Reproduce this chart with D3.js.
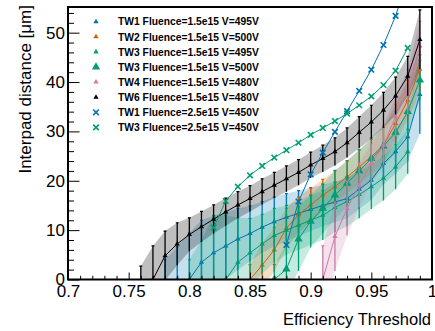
<!DOCTYPE html>
<html>
<head>
<meta charset="utf-8">
<script src="https://cdn.jsdelivr.net/npm/d3@7"></script>
<style>
  body { margin: 0; background: #fff; }
  svg { display: block; font-family: "Liberation Sans", Arial, sans-serif; }
</style>
</head>
<body>
<div id="chart"></div>
<script>
// efficiency threshold -> interpad distance, one set of arrays per curve
const thrTW1 = [0.78, 0.79, 0.80, 0.81, 0.82, 0.83, 0.84, 0.85, 0.86, 0.87, 0.88, 0.89, 0.90, 0.91, 0.92, 0.93, 0.94, 0.95, 0.96, 0.97, 0.98, 0.99];
const distTW1 = [0, 0, 0, 3.5, 5.4, 6.8, 8.2, 9.3, 10.6, 11.7, 12.6, 13.4, 14.2, 15.0, 15.7, 16.4, 18.3, 20.1, 23.5, 25.9, 28.9, 37.5];
const errTW1 = [4, 6.6, 9.4, 8.5, 7.5, 6.8, 6.2, 5.6, 5.2, 5, 4.8, 4.6, 4.4, 4.2, 4.1, 4, 4, 4, 4.2, 4.5, 5, 8];

const thrTW2 = [0.85, 0.86, 0.87, 0.88, 0.89, 0.90, 0.91, 0.92, 0.93, 0.94, 0.95, 0.96, 0.97, 0.98, 0.99];
const distTW2 = [0, 2.9, 6.0, 10.4, 13.1, 15.1, 17.1, 18.8, 20.8, 22.8, 24.9, 27.2, 31.6, 36.3, 42.6];
const errTW2 = [3, 4.5, 4.5, 4, 3.6, 3.4, 3.2, 3.2, 3.3, 3.4, 3.5, 3.6, 3.8, 4, 4.5];

const thrTW3a = [0.80, 0.81, 0.82, 0.83, 0.84, 0.85, 0.86, 0.87, 0.88, 0.89, 0.90, 0.91, 0.92, 0.93, 0.94, 0.95, 0.96, 0.97, 0.98];
const distTW3a = [0, 0, 0, 0, 3.5, 5.4, 7.2, 8.9, 10.0, 11.0, 12.0, 13.0, 14.6, 15.8, 17.2, 18.8, 20.5, 22.8, 25.9];
const errTW3a = [4, 8, 13, 13, 9, 7, 6, 5.5, 5, 5, 5, 5, 5, 5, 4.8, 4.5, 4.5, 4.5, 4.5];

const thrTW3b = [0.87, 0.88, 0.89, 0.90, 0.91, 0.92, 0.93, 0.94, 0.95, 0.96, 0.97, 0.98, 0.99];
const distTW3b = [0, 2.1, 8.2, 11.8, 14.4, 17.1, 19.5, 22.0, 24.5, 27.0, 29.8, 34.0, 40.4];
const errTW3b = [3, 5, 6.5, 5.3, 5, 5, 4.5, 4.3, 4.2, 4.2, 4.2, 4, 4];

const thrTW4 = [0.91, 0.92, 0.93, 0.94, 0.95, 0.96, 0.97, 0.98, 0.99];
const distTW4 = [0, 8.7, 14.4, 19.1, 23.5, 27.2, 33.0, 38.0, 47.3];
const errTW4 = [6.8, 7, 5.5, 4.5, 4, 4, 4, 4.5, 5];

const thrTW6 = [0.76, 0.77, 0.78, 0.79, 0.80, 0.81, 0.82, 0.83, 0.84, 0.85, 0.86, 0.87, 0.88, 0.89, 0.90, 0.91, 0.92, 0.93, 0.94, 0.95, 0.96, 0.97, 0.98, 0.99];
const distTW6 = [-3, 0, 4.8, 7.2, 9.1, 10.7, 12.2, 13.7, 15.1, 16.4, 17.8, 19.1, 20.4, 21.7, 23.2, 24.5, 25.9, 27.7, 29.8, 31.9, 34.3, 37.2, 41.2, 48.6];
const errTW6 = [5.7, 6.8, 5, 4.3, 3.4, 3.1, 2.9, 2.8, 2.7, 2.6, 2.6, 2.6, 2.6, 2.6, 2.6, 2.7, 2.8, 3, 3.2, 3.4, 3.6, 3.8, 4, 6];

const thrTW1hi = [0.88, 0.89, 0.90, 0.91, 0.92, 0.93, 0.94, 0.95, 0.96, 0.97, 0.98];
const distTW1hi = [7.0, 15.8, 21.3, 25.7, 29.9, 34.1, 38.2, 42.5, 47.5, 53.4, 61];

const thrTW3hi = [0.82, 0.83, 0.84, 0.85, 0.86, 0.87, 0.88, 0.89, 0.90, 0.91, 0.92, 0.93, 0.94, 0.95, 0.96, 0.97, 0.98];
const distTW3hi = [10.5, 15.9, 18.8, 21.1, 23.0, 24.7, 26.2, 27.7, 29.3, 30.7, 32.1, 33.6, 35.3, 37.1, 39.4, 42.3, 46.9];

const legendLabels = [
    'TW1 Fluence=1.5e15 V=495V',
    'TW2 Fluence=1.5e15 V=500V',
    'TW3 Fluence=1.5e15 V=495V',
    'TW3 Fluence=1.5e15 V=500V',
    'TW4 Fluence=1.5e15 V=480V',
    'TW6 Fluence=1.5e15 V=480V',
    'TW1 Fluence=2.5e15 V=450V',
    'TW3 Fluence=2.5e15 V=450V'
];

const xTicks = [0.7, 0.75, 0.8, 0.85, 0.9, 0.95, 1];
const yTicks = [0, 10, 20, 30, 40, 50];

const blue = '#0072B2', orange = '#D55E00', green = '#009E73', pink = '#CC79A7', black = '#000';

function zipPoints(t, v, e) {
    return t.map((d, i) => ({ t: d, v: v[i], e: e ? e[i] : 0 }));
}

const series = [
    { label: legendLabels[0], color: blue, marker: 'tri', size: 12, pts: zipPoints(thrTW1, distTW1, errTW1), band: true },
    { label: legendLabels[1], color: orange, marker: 'tri', size: 12, pts: zipPoints(thrTW2, distTW2, errTW2), band: true },
    { label: legendLabels[2], color: green, marker: 'tri', size: 12, pts: zipPoints(thrTW3a, distTW3a, errTW3a), band: true },
    { label: legendLabels[3], color: green, marker: 'tri', size: 30, pts: zipPoints(thrTW3b, distTW3b, errTW3b), band: true },
    { label: legendLabels[4], color: pink, marker: 'tri', size: 12, pts: zipPoints(thrTW4, distTW4, errTW4), band: true },
    { label: legendLabels[5], color: black, marker: 'tri', size: 12, pts: zipPoints(thrTW6, distTW6, errTW6), band: true },
    { label: legendLabels[6], color: blue, marker: 'x', size: 22, pts: zipPoints(thrTW1hi, distTW1hi), band: false },
    { label: legendLabels[7], color: green, marker: 'x', size: 22, pts: zipPoints(thrTW3hi, distTW3hi), band: false }
];

const width = 435, height = 331;
const frame = { left: 68, right: 432, top: 7, bottom: 279.5 };

const svg = d3.select('#chart').append('svg')
    .attr('width', width)
    .attr('height', height);

const x = d3.scaleLinear().domain([0.7, 1]).range([frame.left, frame.right]);
const y = d3.scaleLinear().domain([0, 55.2]).range([frame.bottom, frame.top]);

svg.append('defs').append('clipPath')
    .attr('id', 'plot-clip')
    .append('rect')
    .attr('x', frame.left)
    .attr('y', frame.top)
    .attr('width', frame.right - frame.left)
    .attr('height', frame.bottom - frame.top);

const plot = svg.append('g').attr('clip-path', 'url(#plot-clip)');

// bands first, then bars, lines and markers on top
const area = d3.area()
    .x(d => x(d.t))
    .y0(d => y(d.v - d.e))
    .y1(d => y(d.v + d.e));

series.filter(s => s.band).forEach(s => {
    plot.append('path')
        .datum(s.pts)
        .attr('d', area)
        .attr('fill', s.color)
        .attr('fill-opacity', s.color === black ? 0.25 : 0.22);
});

const line = d3.line().x(d => x(d.t)).y(d => y(d.v));

function markerPath(s) {
    const type = s.marker === 'x' ? d3.symbolX : d3.symbolTriangle;
    return d3.symbol().type(type).size(s.size)();
}

series.forEach(s => {
    const g = plot.append('g');
    if (s.band) {
        const bars = g.selectAll('.bar').data(s.pts).enter().append('g').attr('class', 'bar');
        bars.append('line')
            .attr('x1', d => x(d.t)).attr('x2', d => x(d.t))
            .attr('y1', d => y(d.v - d.e)).attr('y2', d => y(d.v + d.e))
            .attr('stroke', s.color).attr('stroke-width', 1.3);
        bars.append('line')
            .attr('x1', d => x(d.t) - 1.5).attr('x2', d => x(d.t) + 1.5)
            .attr('y1', d => y(d.v + d.e)).attr('y2', d => y(d.v + d.e))
            .attr('stroke', s.color).attr('stroke-width', 1.2);
    }
    g.append('path')
        .datum(s.pts)
        .attr('d', line)
        .attr('fill', 'none')
        .attr('stroke', s.color)
        .attr('stroke-width', 1);
    const sym = markerPath(s);
    g.selectAll('.pt').data(s.pts).enter().append('path')
        .attr('class', 'pt')
        .attr('d', sym)
        .attr('transform', d => `translate(${x(d.t)},${y(d.v)})`)
        .attr('fill', s.marker === 'x' ? 'none' : s.color)
        .attr('stroke', s.color)
        .attr('stroke-width', s.marker === 'x' ? 1.6 : 0);
});

// axes with inward ticks, ROOT style
const xAxis = svg.append('g')
    .attr('transform', `translate(0,${frame.bottom})`)
    .call(d3.axisBottom(x).tickValues(xTicks).tickSize(-7).tickPadding(5.5).tickFormat(d3.format('')));
xAxis.select('.domain').remove();

const xMinor = d3.range(70, 101).map(d => d / 100).filter(d => Math.round(d * 100) % 5 !== 0);
const xAxisMinor = svg.append('g')
    .attr('transform', `translate(0,${frame.bottom})`)
    .call(d3.axisBottom(x).tickValues(xMinor).tickSize(-3.7).tickFormat(''));
xAxisMinor.select('.domain').remove();

const yAxis = svg.append('g')
    .attr('transform', `translate(${frame.left},0)`)
    .call(d3.axisLeft(y).tickValues(yTicks).tickSize(-11.5).tickPadding(3));
yAxis.select('.domain').remove();

const yMinor = d3.range(0, 56, 2).filter(d => d % 10 !== 0);
const yAxisMinor = svg.append('g')
    .attr('transform', `translate(${frame.left},0)`)
    .call(d3.axisLeft(y).tickValues(yMinor).tickSize(-6).tickFormat(''));
yAxisMinor.select('.domain').remove();

svg.selectAll('.tick line').attr('stroke', '#000').attr('stroke-width', 1);
svg.selectAll('.tick text')
    .attr('font-size', '17px')
    .attr('font-family', '"Liberation Sans", Arial, sans-serif')
    .attr('fill', '#000');

svg.append('rect')
    .attr('x', frame.left)
    .attr('y', frame.top)
    .attr('width', frame.right - frame.left)
    .attr('height', frame.bottom - frame.top)
    .attr('fill', 'none')
    .attr('stroke', '#000')
    .attr('stroke-width', 2);

svg.append('text')
    .attr('x', 431)
    .attr('y', 325)
    .attr('text-anchor', 'end')
    .attr('font-size', '16.5px')
    .text('Efficiency Threshold');

svg.append('text')
    .attr('transform', 'translate(31,5) rotate(-90)')
    .attr('text-anchor', 'end')
    .attr('font-size', '17px')
    .text('Interpad distance [\u03bcm]');

// legend
const legend = svg.append('g').attr('class', 'legend');
const rows = legend.selectAll('.legend-item')
    .data(series)
    .enter()
    .append('g')
    .attr('class', 'legend-item')
    .attr('transform', (d, i) => `translate(96,${21.7 + i * 15.1})`);

rows.append('path')
    .attr('d', d => markerPath(d))
    .attr('fill', d => d.marker === 'x' ? 'none' : d.color)
    .attr('stroke', d => d.color)
    .attr('stroke-width', d => d.marker === 'x' ? 1.6 : 0);

rows.append('text')
    .attr('x', 22)
    .attr('y', 3.7)
    .attr('font-size', '10.3px')
    .attr('font-weight', 'bold')
    .text(d => d.label);
</script>
</body>
</html>
